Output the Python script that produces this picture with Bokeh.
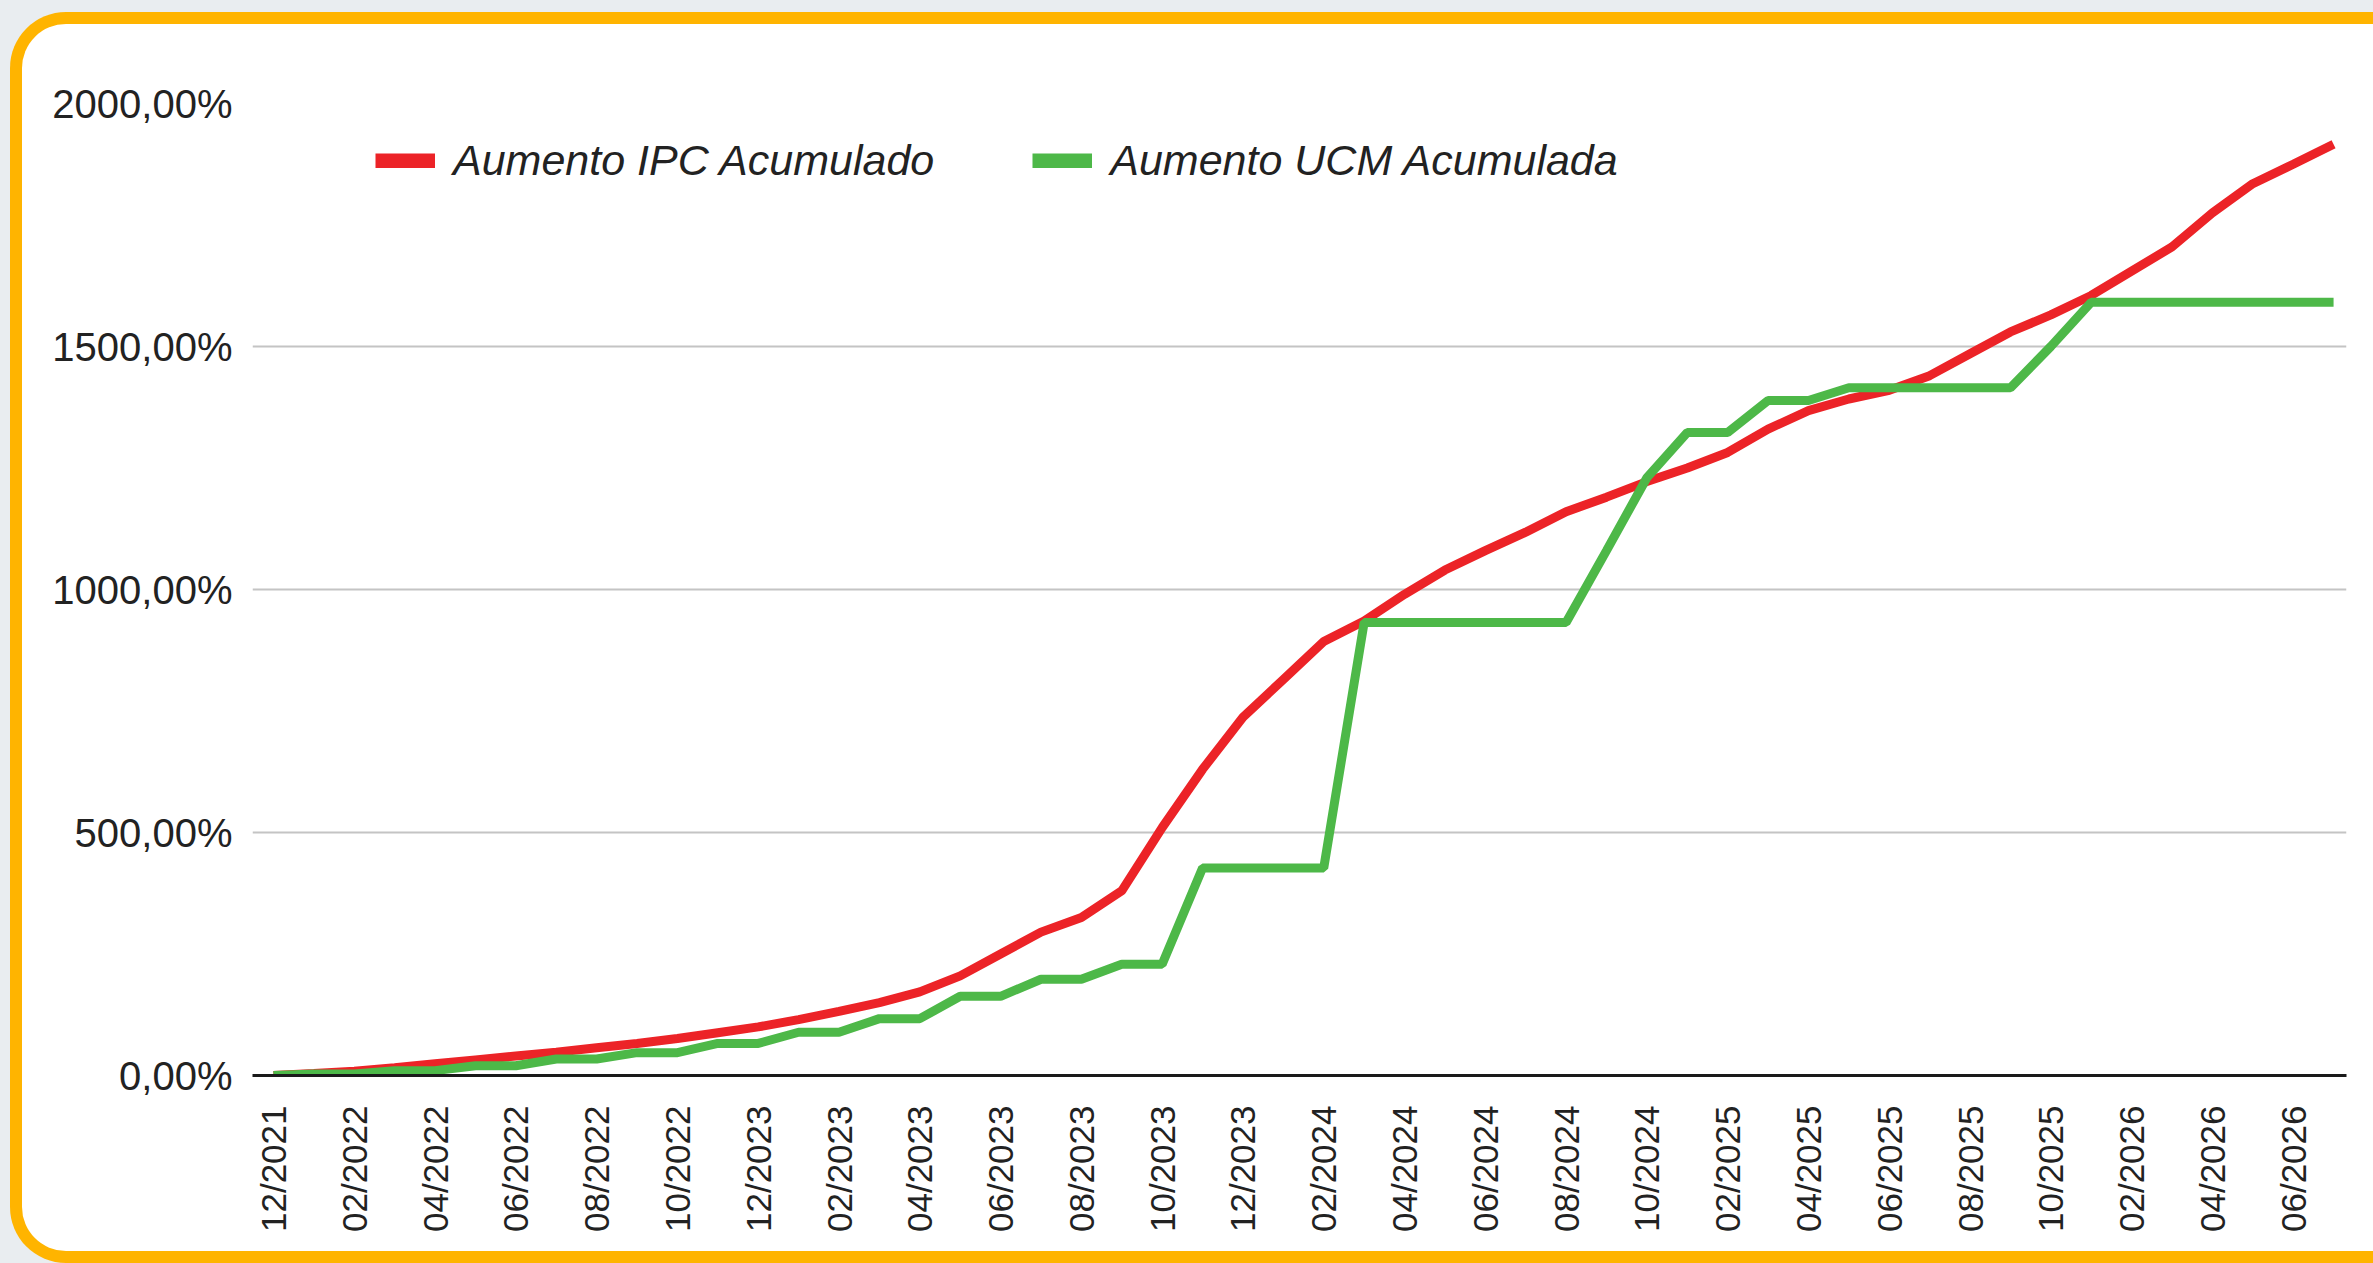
import math
from bokeh.plotting import figure
from bokeh.layouts import row, column
from bokeh.models import Range1d, FixedTicker, Legend, LegendItem, ColumnDataSource, Spacer
from bokeh.embed import file_html
from bokeh.resources import INLINE

# ---- data ----
months = [
    "12/2021", "01/2022", "02/2022", "03/2022", "04/2022", "05/2022", "06/2022", "07/2022",
    "08/2022", "09/2022", "10/2022", "11/2022", "12/2023", "01/2023", "02/2023", "03/2023",
    "04/2023", "05/2023", "06/2023", "07/2023", "08/2023", "09/2023", "10/2023", "11/2023",
    "12/2023", "01/2024", "02/2024", "03/2024", "04/2024", "05/2024", "06/2024", "07/2024",
    "08/2024", "09/2024", "10/2024", "12/2024", "02/2025", "03/2025", "04/2025", "05/2025",
    "06/2025", "07/2025", "08/2025", "09/2025", "10/2025", "12/2025", "02/2026", "03/2026",
    "04/2026", "05/2026", "06/2026", "07/2026",
]
ipc_acumulado = [
    0, 4, 9, 16, 24, 32, 40, 48, 57, 66, 76, 88, 100, 115, 132, 150,
    172, 205, 250, 295, 325, 380, 510, 630, 737, 815, 893, 935, 990, 1040, 1080, 1118,
    1160, 1190, 1222, 1250, 1282, 1330, 1368, 1392, 1410, 1440, 1485, 1530, 1565, 1605,
    1655, 1705, 1775, 1835, 1875, 1916,
]
ucm_acumulada = [
    0, 3, 3, 10, 10, 20, 20, 34, 34, 47, 47, 66, 66, 89, 89, 117,
    117, 163, 163, 198, 198, 229, 229, 427, 427, 427, 427, 932, 932, 932, 932, 932,
    932, 1080, 1230, 1323, 1323, 1389, 1389, 1415, 1415, 1415, 1415, 1415, 1500, 1591,
    1591, 1591, 1591, 1591, 1591, 1591,
]
y_ticks = [0, 500, 1000, 1500, 2000]
y_tick_labels = ["0,00%", "500,00%", "1000,00%", "1500,00%", "2000,00%"]
series_names = ["Aumento IPC Acumulado", "Aumento UCM Acumulada"]
series_colors = ["#EC2327", "#4DB848"]

idx = list(range(len(months)))
src = ColumnDataSource(dict(x=idx, ipc=ipc_acumulado, ucm=ucm_acumulada, mes=months))

PAD_L, PAD_T, PAD_B = 22, 24, 12
W, H = 2373 - PAD_L, 1263 - PAD_T - PAD_B
FONT = "Liberation Sans"
TXT = "#222222"

p = figure(width=W, height=H, output_backend="svg", toolbar_location=None,
           x_range=Range1d(-0.52, len(months) - 1 + 0.32), y_range=Range1d(0, 2000),
           min_border_left=230, min_border_right=27, min_border_top=79, min_border_bottom=176)
p.border_fill_color = None
p.background_fill_color = None
p.outline_line_color = None
# white card with rounded corners and yellow rim (CSS on the figure element);
# the card runs off the right edge of the page, so no rim shows there
p.styles = {"background-color": "white", "border-radius": "44px",
            "box-shadow": "60px 0 0 0 #FFFFFF, 0 0 0 12px #FFB400, 60px 0 0 12px #FFB400"}

# axes
p.xaxis.ticker = FixedTicker(ticks=idx[::2])
p.xaxis.major_label_overrides = {i: months[i] for i in idx[::2]}
p.xaxis.major_label_orientation = math.pi / 2
p.xaxis.major_label_text_font = FONT
p.xaxis.major_label_text_font_size = "35px"
p.xaxis.major_label_text_color = TXT
p.xaxis.major_tick_line_color = None
p.xaxis.minor_tick_line_color = None
p.xaxis.major_tick_out = 0
p.xaxis.major_label_standoff = 30
p.xaxis.axis_line_color = "#1a1a1a"
p.xaxis.axis_line_width = 3

p.yaxis.ticker = FixedTicker(ticks=y_ticks)
p.yaxis.major_label_overrides = {t: l for t, l in zip(y_ticks, y_tick_labels)}
p.yaxis.major_label_text_font = FONT
p.yaxis.major_label_text_font_size = "40px"
p.yaxis.major_label_text_color = TXT
p.yaxis.axis_line_color = None
p.yaxis.major_tick_line_color = None
p.yaxis.minor_tick_line_color = None
p.yaxis.major_tick_out = 0
p.yaxis.major_label_standoff = 20

p.xgrid.grid_line_color = None
p.ygrid.ticker = FixedTicker(ticks=y_ticks)
p.ygrid.grid_line_color = "#C4C4C4"
p.ygrid.grid_line_width = 2

# series
r_ipc = p.line("x", "ipc", source=src, line_color=series_colors[0], line_width=9)
r_ucm = p.line("x", "ucm", source=src, line_color=series_colors[1], line_width=9)

# legend swatches (thicker bars, like the original key); no visible data
nan = float("nan")
sw_ipc = p.line(x=[nan], y=[nan], line_color=series_colors[0], line_width=15)
sw_ucm = p.line(x=[nan], y=[nan], line_color=series_colors[1], line_width=15)

legend = Legend(items=[LegendItem(label=series_names[0], renderers=[sw_ipc]),
                       LegendItem(label=series_names[1], renderers=[sw_ucm])],
                orientation="horizontal", location=(123, 890),
                label_text_font=FONT, label_text_font_style="italic",
                label_text_font_size="43px", label_text_color=TXT,
                glyph_width=60, glyph_height=15, label_standoff=18, spacing=98,
                padding=0, margin=0, border_line_color=None,
                background_fill_alpha=0)
p.add_layout(legend)

page = row(Spacer(width=PAD_L, height=H + PAD_T + PAD_B),
           column(Spacer(width=W, height=PAD_T), p, Spacer(width=W, height=PAD_B)),
           styles={"background-color": "#E9EDF0"})

open("out.html", "w").write(file_html(page, INLINE))
